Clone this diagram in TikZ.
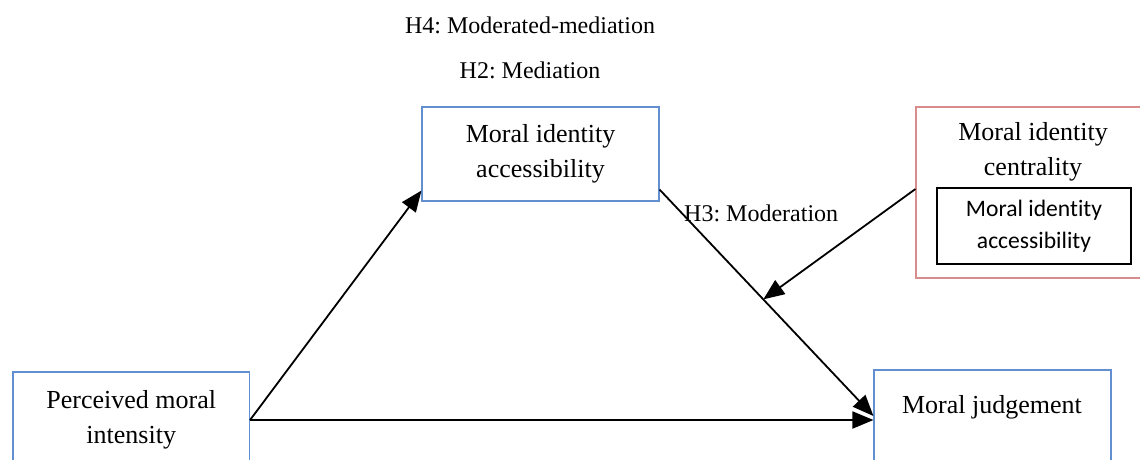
\documentclass[tikz,border=0pt]{standalone}
\usepackage{fontspec}
\setmainfont{Liberation Serif}
\newfontfamily\calib[Ligatures={NoCommon}]{Carlito}
\usetikzlibrary{arrows.meta,calc}
\definecolor{boxblue}{RGB}{98,143,208}
\definecolor{boxred}{RGB}{216,140,140}
\frenchspacing
\tikzset{
  bluebox/.style={draw=boxblue,line width=1.1pt,rectangle,inner sep=0pt},
  redbox/.style={draw=boxred,line width=1.1pt,rectangle,inner sep=0pt},
  blackbox/.style={draw=black,line width=1.5pt,rectangle,inner sep=0pt},
  boxtext/.style={font=\fontsize{26}{35}\selectfont,align=center,inner sep=0pt},
  htext/.style={font=\fontsize{24}{29}\selectfont,inner sep=0pt},
  sanstext/.style={font=\calib\fontsize{23.6}{32}\selectfont,align=center,inner sep=0pt},
  arr/.style={line width=1.8pt,-{Triangle[length=21pt,width=17pt]}}
}
\begin{document}
\begin{tikzpicture}[x=1pt,y=-1pt]
\useasboundingbox (0,0) rectangle (1140,459);
\fill[white] (0,0) rectangle (1140,459);
\clip (0,0) rectangle (1140,459);
% texts at top
\node[htext] (h4) at (530,25) {H4: Moderated-mediation};
\node[htext] (h2) at (530,70) {H2: Mediation};
% boxes
\node[bluebox,minimum width=237pt,minimum height=94pt,boxtext] (mia) at (540.5,154) {Moral identity\\accessibility};
\node[redbox,minimum width=240pt,minimum height=171pt] (mic) at (1036,192.5) {};
\node[boxtext] (mictext) at (1033,152) {Moral identity\\centrality};
\node[blackbox,minimum width=194pt,minimum height=76pt,sanstext] (inner) at (1034,226) {Moral identity\\accessibility};
\node[bluebox,minimum width=236.5pt,minimum height=96pt,boxtext] (pmi) at (131.25,420) {Perceived moral\\intensity};
\node[bluebox,minimum width=237pt,minimum height=100pt] (mj) at (992.5,420) {};
\node[boxtext] (mjtext) at (992,407) {Moral judgement};
\node[htext,anchor=west] (h3) at (684,213) {H3: Moderation};
% connector end points
\coordinate (miain) at ($(mia.south west)+(0,-11)$);
\coordinate (miaout) at ($(mia.south east)+(0,-12)$);
\coordinate (mjin) at ($(mj.west)+(0,-4)$);
\coordinate (micout) at ($(mic.west)+(0,-3.5)$);
\coordinate (modpt) at ($(miaout)!0.485!(mjin)$);
% connectors
\draw[arr] (pmi.east) -- (miain);
\draw[arr] (pmi.east) -- (mj.west);
\draw[arr] (miaout) -- (mjin);
\draw[arr] (micout) -- (modpt);
\end{tikzpicture}
\end{document}
